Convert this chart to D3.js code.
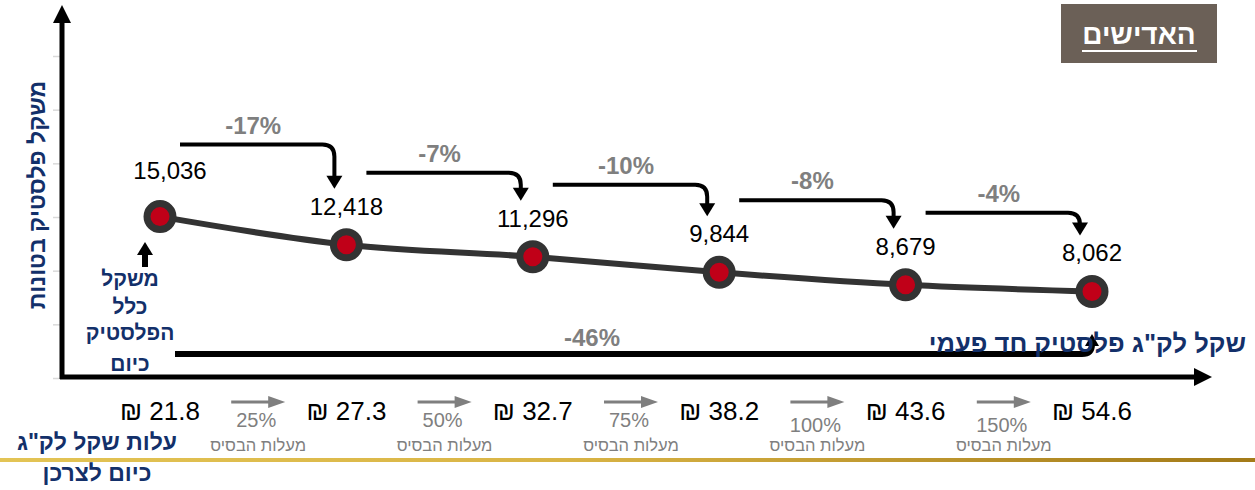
<!DOCTYPE html>
<html>
<head>
<meta charset="utf-8">
<script src="https://cdn.jsdelivr.net/npm/d3@7"></script>
<style>
  body { margin: 0; background: #fff; }
  svg { display: block; font-family: "Liberation Sans", Arial, sans-serif; }
</style>
</head>
<body>
<div id="chart"></div>
<script>
// Chart data
const prices = [21.8, 27.3, 32.7, 38.2, 43.6, 54.6];        // ש"ח לק"ג
const weights = [15036, 12418, 11296, 9844, 8679, 8062];     // טונות
const changes = ["-17%", "-7%", "-10%", "-8%", "-4%"];
const increases = ["25%", "50%", "75%", "100%", "150%"];
const totalChange = "-46%";
const yTicks = [0, 5000, 10000, 15000, 20000, 25000, 30000];

const WIDTH = 1255
const HEIGHT = 490
const NAVY = "#13306a"
const GRAY = "#7f7f7f"

let svg = d3.select("#chart").append("svg")
    .attr("width", WIDTH)
    .attr("height", HEIGHT)

// Scales
const x = d3.scalePoint().domain(d3.range(weights.length)).range([160, 1092])
const y = d3.scaleLinear().domain([0, 30000]).range([378, 56])

// gold rule gradient
const grad = svg.append("defs").append("linearGradient").attr("id", "gold")
grad.append("stop").attr("offset", "0%").attr("stop-color", "#e3c455")
grad.append("stop").attr("offset", "45%").attr("stop-color", "#d9b445")
grad.append("stop").attr("offset", "100%").attr("stop-color", "#a37a18")
svg.append("rect").attr("x", 0).attr("y", 458).attr("width", WIDTH).attr("height", 4)
    .attr("fill", "url(#gold)")

// y ticks (no labels)
const yAxis = svg.append("g").attr("transform", "translate(62,0)")
    .call(d3.axisLeft(y).tickValues(yTicks).tickSize(9).tickFormat(""))
yAxis.select(".domain").remove()
yAxis.selectAll(".tick line").attr("stroke", "#d9d9d9").attr("stroke-width", 1.5)

// axis lines with arrow heads
svg.append("line").attr("x1", 62).attr("y1", 379).attr("x2", 62).attr("y2", 20)
    .attr("stroke", "#000").attr("stroke-width", 5)
svg.append("path").attr("d", "M53,23 L71,23 L62,5 Z").attr("fill", "#000")
svg.append("line").attr("x1", 60).attr("y1", 377).attr("x2", 1196).attr("y2", 377)
    .attr("stroke", "#000").attr("stroke-width", 5)
svg.append("path").attr("d", "M1194,368 L1194,386 L1212,377 Z").attr("fill", "#000")

// y axis title
svg.append("text")
    .attr("transform", "translate(37,195) rotate(-90)")
    .attr("text-anchor", "middle").attr("dominant-baseline", "central")
    .attr("fill", NAVY).attr("font-weight", "bold").attr("font-size", 23)
    .text("משקל פלסטיק בטונות")

// change brackets between consecutive points
const bracket = svg.append("g")
changes.forEach((c, i) => {
    const x0 = x(i) + 20, x1 = x(i + 1) - 12
    const yl = y(weights[i]) - 72
    const tip = y(weights[i + 1]) - 56
    const r = 12
    bracket.append("path")
        .attr("d", `M${x0},${yl} H${x1 - r} Q${x1},${yl} ${x1},${yl + r} V${tip - 12}`)
        .attr("fill", "none").attr("stroke", "#000").attr("stroke-width", 4)
    bracket.append("path")
        .attr("d", `M${x1 - 8},${tip - 13} L${x1 + 8},${tip - 13} L${x1},${tip} Z`)
        .attr("fill", "#000")
    bracket.append("text")
        .attr("x", (x0 + x1) / 2 - 4).attr("y", yl - 11)
        .attr("text-anchor", "middle").attr("fill", GRAY)
        .attr("font-weight", "bold").attr("font-size", 24)
        .text(c)
})

// total change bracket
const last = weights.length - 1
const ty = y(0) - 24
svg.append("path")
    .attr("d", `M175,${ty} H${x(last) - 10} Q${x(last)},${ty} ${x(last)},${ty - 10}`)
    .attr("fill", "none").attr("stroke", "#000").attr("stroke-width", 6)
svg.append("path")
    .attr("d", `M${x(last) - 7},${ty - 8} L${x(last) + 7},${ty - 8} L${x(last)},${ty - 20} Z`)
    .attr("fill", "#000")
svg.append("text")
    .attr("x", 592).attr("y", ty - 8)
    .attr("text-anchor", "middle").attr("fill", GRAY)
    .attr("font-weight", "bold").attr("font-size", 24)
    .text(totalChange)

// line + points
const line = d3.line()
    .x((d, i) => x(i))
    .y(d => y(d))
    .curve(d3.curveMonotoneX)
svg.append("path").datum(weights)
    .attr("d", line)
    .attr("fill", "none").attr("stroke", "#333").attr("stroke-width", 6)

svg.selectAll("circle.pt").data(weights).enter()
    .append("circle")
        .attr("class", "pt")
        .attr("cx", (d, i) => x(i))
        .attr("cy", d => y(d))
        .attr("r", 13)
        .attr("fill", "#c00018")
        .attr("stroke", "#333").attr("stroke-width", 7)

svg.selectAll("text.val").data(weights).enter()
    .append("text")
        .attr("class", "val")
        .attr("x", (d, i) => x(i) + (i === 0 ? 10 : 0))
        .attr("y", (d, i) => y(d) - (i === 0 ? 38 : 30))
        .attr("text-anchor", "middle")
        .attr("font-size", 24).attr("fill", "#000")
        .text(d => d3.format(",")(d))

// label for first point
svg.append("path").attr("d", "M137,255 L153,255 L145,242 Z").attr("fill", "#000")
svg.append("rect").attr("x", 142).attr("y", 254).attr("width", 6).attr("height", 13).attr("fill", "#000")
const firstLbl = ["משקל", "כלל", "הפלסטיק", "כיום"]
const firstY = [286, 314, 340, 371]
firstLbl.forEach((t, i) => {
    svg.append("text").attr("x", 130).attr("y", firstY[i])
        .attr("text-anchor", "middle").attr("fill", NAVY)
        .attr("font-weight", "bold").attr("font-size", 21)
        .text(t)
})

// x axis title
svg.append("text").attr("x", 1246).attr("y", 352)
    .attr("text-anchor", "end").attr("fill", NAVY)
    .attr("font-weight", "bold").attr("font-size", 25.5)
    .text('שקל לק"ג פלסטיק חד פעמי')

// prices under each point
svg.selectAll("text.price").data(prices).enter()
    .append("text")
        .attr("class", "price")
        .attr("x", (d, i) => x(i))
        .attr("y", 420)
        .attr("text-anchor", "middle")
        .attr("font-size", 26).attr("fill", "#000")
        .text(d => "₪ " + d3.format(".1f")(d))

// increase arrows between prices
increases.forEach((p, i) => {
    const cx = (x(i) + x(i + 1)) / 2 + 5
    svg.append("line").attr("x1", cx - 27).attr("x2", cx + 12).attr("y1", 402).attr("y2", 402)
        .attr("stroke", GRAY).attr("stroke-width", 3)
    svg.append("path").attr("d", `M${cx + 10},396 L${cx + 10},408 L${cx + 27},402 Z`).attr("fill", GRAY)
    svg.append("text").attr("x", cx - 2).attr("y", i < 3 ? 427 : 432)
        .attr("text-anchor", "middle").attr("fill", GRAY).attr("font-size", 20)
        .text(p)
    svg.append("text").attr("x", cx).attr("y", 451)
        .attr("text-anchor", "middle").attr("fill", GRAY).attr("font-size", 16.5)
        .text("מעלות הבסיס")
})

// bottom-left caption
svg.append("text").attr("x", 97).attr("y", 450)
    .attr("text-anchor", "middle").attr("fill", NAVY)
    .attr("font-weight", "bold").attr("font-size", 23)
    .text('עלות שקל לק"ג')
svg.append("text").attr("x", 97).attr("y", 481)
    .attr("text-anchor", "middle").attr("fill", NAVY)
    .attr("font-weight", "bold").attr("font-size", 23)
    .text("כיום לצרכן")

// scenario box
svg.append("rect").attr("x", 1061).attr("y", 4).attr("width", 156).attr("height", 59)
    .attr("fill", "#6b6057")
svg.append("text").attr("x", 1139).attr("y", 44)
    .attr("text-anchor", "middle").attr("fill", "#fff")
    .attr("font-weight", "bold").attr("font-size", 28)
    .text("האדישים")
svg.append("line").attr("x1", 1082).attr("x2", 1197).attr("y1", 51).attr("y2", 51)
    .attr("stroke", "#fff").attr("stroke-width", 2)
</script>
</body>
</html>
